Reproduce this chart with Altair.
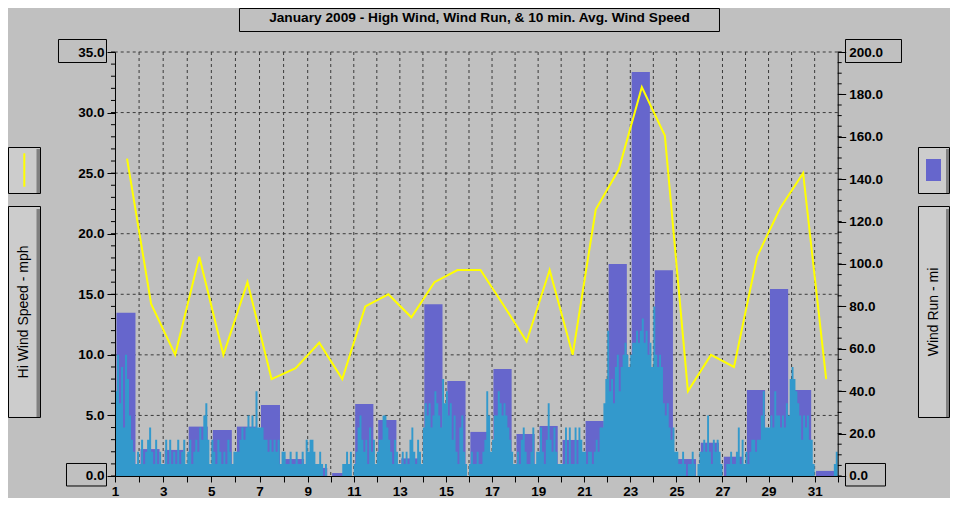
import altair as alt
import pandas as pd

# ---------------- data ----------------
days = list(range(1, 32))

hi_wind_mph = [26.2, 14.2, 10.0, 18.1, 10.0, 16.0, 8.0, 8.9, 11.0, 8.0,
               14.0, 15.0, 13.1, 16.0, 17.0, 17.0, 14.1, 11.1, 17.0, 10.0,
               22.0, 25.3, 32.1, 28.1, 7.0, 10.0, 9.0, 18.1, 22.1, 25.0, 8.0]

wind_run_mi = [77.0, 12.7, 12.3, 23.3, 21.7, 23.3, 33.5, 8.0, 3.8, 1.4,
               34.0, 26.4, 8.3, 81.0, 44.8, 20.8, 50.5, 19.8, 23.6, 17.0,
               26.0, 100.0, 190.6, 97.0, 8.0, 15.7, 9.1, 40.6, 88.2, 40.6, 2.4]

# 10 min. avg wind speed, sampled every 2 hours (12 per day), mph
avg_week1 = [7, 10, 6, 9, 4, 10, 8, 5, 3, 2, 1, 2,
             1, 3, 1, 2, 3, 4, 2, 1, 3, 1, 2, 1,
             1, 3, 1, 3, 1, 2, 1, 3, 1, 2, 3, 1,
             2, 3, 1, 2, 3, 2, 4, 3, 5, 6, 3, 1,
             3, 2, 1, 3, 2, 1, 2, 1, 3, 2, 1, 2,
             2, 2, 3, 4, 3, 4, 5, 4, 5, 4, 7, 4,
             4, 4, 3, 3, 2, 3, 2, 3, 2, 3, 1, 2]
avg_week2 = [2, 1, 1, 2, 1, 1, 2, 1, 1, 2, 1, 3,
             2, 3, 3, 2, 1, 1, 2, 1, 0, 1, 0, 0,
             0, 0, 0, 0, 0, 0, 1, 1, 2, 1, 2, 0,
             1, 2, 4, 5, 3, 2, 3, 1, 4, 2, 3, 1,
             2, 3, 3, 5, 5, 4, 3, 2, 1, 3, 2, 1,
             1, 2, 1, 2, 1, 3, 4, 2, 1, 3, 2, 1,
             4, 6, 5, 6, 4, 5, 7, 6, 5, 4, 8, 6]
avg_week3 = [7, 5, 6, 3, 5, 2, 1, 4, 5, 2, 1, 0,
             1, 2, 1, 1, 2, 1, 1, 2, 3, 7, 5, 2,
             3, 5, 5, 7, 6, 5, 6, 5, 4, 3, 2, 1,
             1, 2, 1, 3, 4, 2, 1, 1, 2, 4, 1, 2,
             2, 4, 2, 1, 3, 6, 3, 2, 4, 2, 1, 1,
             1, 1, 4, 1, 4, 1, 1, 4, 1, 4, 3, 2,
             2, 1, 2, 2, 1, 2, 3, 2, 4, 4, 6, 8]
avg_week4 = [12, 7, 8, 6, 9, 10, 7, 9, 10, 11, 10, 9,
             10, 11, 11, 12, 11, 12, 13, 11, 12, 10, 11, 9,
             14, 10, 9, 10, 9, 6, 5, 6, 4, 3, 4, 2,
             2, 1, 1, 2, 1, 0, 1, 1, 2, 1, 0, 1,
             2, 2, 3, 2, 5, 2, 1, 3, 2, 3, 2, 1,
             0, 0, 1, 1, 2, 1, 1, 2, 4, 1, 3, 1,
             2, 1, 2, 3, 3, 2, 3, 3, 5, 7, 4, 4]
avg_week5 = [4, 5, 4, 7, 5, 5, 4, 5, 4, 6, 5, 8,
             9, 8, 7, 6, 5, 3, 5, 4, 5, 3, 3, 1,
             0, 0, 0, 0, 0, 0, 0, 0, 0, 0, 1, 2]

x_tick_days = list(range(1, 33))
grid_days = list(range(2, 32))
mph_ticks = [0, 5, 10, 15, 20, 25, 30, 35]
mph_minor = list(range(0, 36))
mi_ticks = [0, 20, 40, 60, 80, 100, 120, 140, 160, 180, 200]
mi_minor = list(range(0, 201, 5))

TITLE = "January 2009 - High Wind, Wind Run, & 10 min. Avg. Wind Speed"

# ---------------- tables ----------------
daily = pd.DataFrame({"day": days, "hi": hi_wind_mph, "run": wind_run_mi})
avg_all = avg_week1 + avg_week2 + avg_week3 + avg_week4 + avg_week5
avg_df = pd.DataFrame({"idx": list(range(len(avg_all))) + [len(avg_all)],
                       "v": avg_all + [avg_all[-1]]})

# ---------------- styling ----------------
BG = "#c0c0c0"
BAR = "#6666cc"
CYAN = "#3399cc"
YEL = "#ffff00"
GRID = "#3a3a3a"
BOX = "#cccccc"
SHADOW = "#808080"
FONT = "Liberation Sans"

W = 722.7
H = 424

xscale = alt.Scale(domain=[1, 9, 32], range=[0, 192.7, W], nice=False, zero=False)
mph_scale = alt.Scale(domain=[0, 35], nice=False, zero=True)
mi_scale = alt.Scale(domain=[0, 200], nice=False, zero=True)

lab = dict(labelFont=FONT, labelFontSize=13.5, labelFontWeight="bold",
           labelColor="black", domainColor="black", tickColor="black",
           domainWidth=1, tickWidth=1, grid=False, title=None, zindex=1,
           labelFlush=False, labelOverlap=False, labelBound=False)

xaxis = alt.Axis(values=x_tick_days, tickSize=6, labelPadding=3,
                 labelExpr="datum.value % 2 == 1 ? datum.label : ''",
                 format="d", orient="bottom", **lab)
yaxis_left = alt.Axis(values=mph_ticks, format=".1f", tickSize=8,
                      labelPadding=3, orient="left", **lab)
yaxis_right = alt.Axis(values=mi_ticks, format=".1f", tickSize=8,
                       labelPadding=3, orient="right", **lab)

one = pd.DataFrame({"k": [0]})


def rect(x, x2, y, y2, fill, stroke=None):
    kw = dict(fill=fill)
    if stroke:
        kw.update(stroke=stroke, strokeWidth=1)
    else:
        kw.update(strokeWidth=0)
    return alt.Chart(one).mark_rect(**kw).encode(
        x=alt.value(x), x2=alt.value(x2), y=alt.value(y), y2=alt.value(y2))


def text(t, x, y, size, weight="normal", angle=0, baseline="middle"):
    kw = dict(text=t, font=FONT, fontSize=size, fontWeight=weight,
              color="black", align="center", baseline=baseline)
    if angle:
        kw["angle"] = angle
    return alt.Chart(one).mark_text(**kw).encode(x=alt.value(x), y=alt.value(y))


# ---------------- data layers ----------------
grid_v = alt.Chart(pd.DataFrame({"g": grid_days})).mark_rule(
    color=GRID, strokeDash=[3, 3], strokeWidth=1).encode(
    x=alt.X("g:Q", scale=xscale, axis=xaxis))

grid_h = alt.Chart(pd.DataFrame({"g": mph_ticks[1:]})).mark_rule(
    color=GRID, strokeDash=[3, 3], strokeWidth=1).encode(
    y=alt.Y("g:Q", scale=mph_scale, axis=None))

bars = alt.Chart(daily).transform_calculate(
    x0="datum.day + 0.06", x1="datum.day + 0.85").mark_rect(
    color=BAR, strokeWidth=0).encode(
    x=alt.X("x0:Q", scale=xscale, axis=xaxis),
    x2="x1:Q",
    y=alt.Y("run:Q", scale=mi_scale, axis=yaxis_right))

ticks_r = alt.Chart(pd.DataFrame({"m": mi_minor})).mark_rule(
    color="black", strokeWidth=1).encode(
    y=alt.Y("m:Q", scale=mi_scale, axis=yaxis_right),
    x=alt.value(W), x2=alt.value(W + 4))

area = alt.Chart(avg_df).transform_calculate(
    t="1 + datum.idx / 12").mark_area(
    color=CYAN, interpolate="step-after", opacity=1).encode(
    x=alt.X("t:Q", scale=xscale, axis=xaxis),
    y=alt.Y("v:Q", scale=mph_scale, axis=yaxis_left))

line = alt.Chart(daily).transform_calculate(
    mid="datum.day + 0.5").mark_line(color=YEL, strokeWidth=2).encode(
    x=alt.X("mid:Q", scale=xscale, axis=xaxis),
    y=alt.Y("hi:Q", scale=mph_scale, axis=yaxis_left))

ticks_l = alt.Chart(pd.DataFrame({"m": mph_minor})).mark_rule(
    color="black", strokeWidth=1).encode(
    y=alt.Y("m:Q", scale=mph_scale, axis=yaxis_left),
    x=alt.value(-4), x2=alt.value(0))

bars_group = alt.layer(bars, ticks_r)
mph_group = alt.layer(area, line, ticks_l)

# ---------------- decorations (frames, legends, titles) ----------------
decor = [
    rect(124.5, 604.5, -43.5, -20.5, BG, "black"),
    rect(-56.5, -8.5, -12.5, 10.5, BG, "black"),
    rect(-48.5, -8.5, 411.5, 434, BG, "black"),
    rect(730.5, 786.5, -12.5, 10.5, BG, "black"),
    rect(730.5, 770.5, 411.5, 434, BG, "black"),
    # left legend + axis-title boxes
    rect(-106.5, -74.5, 95.5, 141.5, BOX, "black"),
    rect(-78.5, -75, 97, 141, SHADOW),
    rect(-106.5, -74.5, 154.5, 365.5, BOX, "black"),
    rect(-78.5, -75, 157, 365, SHADOW),
    # right legend + axis-title boxes
    rect(803.5, 834.5, 95.5, 141.5, BOX, "black"),
    rect(831, 834, 97, 141, SHADOW),
    rect(803.5, 834.5, 154.5, 365.5, BOX, "black"),
    rect(831, 834, 157, 365, SHADOW),
    rect(811, 826, 107, 129, BAR),
]
legend_line = alt.Chart(one).mark_rule(color=YEL, strokeWidth=2).encode(
    x=alt.value(-90.7), y=alt.value(101.3), y2=alt.value(134.7))

texts = [
    text(TITLE, 364.5, -30.3, 13.7, "bold", baseline="alphabetic"),
    text("Hi Wind Speed - mph", -91, 260, 14, angle=270),
    text("Wind Run - mi", 819, 260, 14, angle=270),
]

chart = alt.layer(
    *decor, legend_line, *texts,
    grid_v, grid_h, bars_group, mph_group,
).resolve_scale(y="independent").properties(
    width=W, height=H,
    padding={"left": 107, "top": 44, "right": 112, "bottom": 22},
    autosize=alt.AutoSizeParams(type="none"),
    background=BG,
).configure_view(stroke=None)

chart.save("out.html", embed_options={"renderer": "svg", "actions": False})
